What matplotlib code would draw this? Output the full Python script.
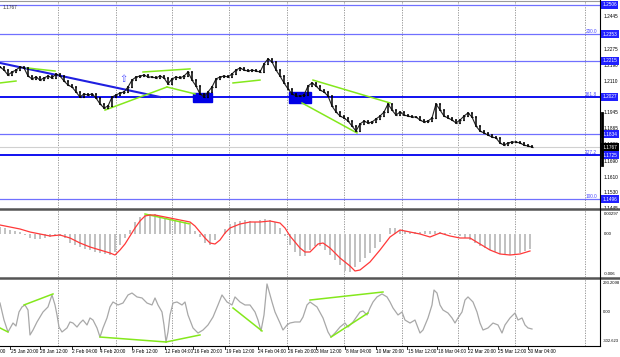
import matplotlib
matplotlib.use("Agg")
import matplotlib.pyplot as plt
from matplotlib.lines import Line2D
from matplotlib.patches import Rectangle

# EURUSD H4 - closes sampled every 4 px along the time axis
closes = [1.2183, 1.2167, 1.2141, 1.2157, 1.2167, 1.2183, 1.2178, 1.2136, 1.2121, 1.2131,
          1.2115, 1.2126, 1.2136, 1.2126, 1.2147, 1.2136, 1.2110, 1.2089, 1.2079, 1.2053,
          1.2027, 1.2043, 1.2037, 1.2043, 1.2022, 1.1991, 1.1970, 1.1980, 1.2027, 1.2037,
          1.2048, 1.2053, 1.2079, 1.2115, 1.2131, 1.2136, 1.2141, 1.2131, 1.2131, 1.2126,
          1.2136, 1.2126, 1.2095, 1.2121, 1.2131, 1.2126, 1.2136, 1.2157, 1.2115, 1.2084,
          1.2043, 1.2027, 1.2053, 1.2079, 1.2121, 1.2131, 1.2136, 1.2131, 1.2147, 1.2167,
          1.2178, 1.2167, 1.2162, 1.2167, 1.2162, 1.2157, 1.2199, 1.2225, 1.2209, 1.2167,
          1.2136, 1.2100, 1.2069, 1.2043, 1.2032, 1.2032, 1.2037, 1.2084, 1.2100, 1.2084,
          1.2063, 1.2053, 1.2032, 1.1980, 1.1949, 1.1928, 1.1918, 1.1902, 1.1876, 1.1850,
          1.1887, 1.1902, 1.1892, 1.1897, 1.1913, 1.1928, 1.1949, 1.1991, 1.1959, 1.1933,
          1.1949, 1.1933, 1.1928, 1.1923, 1.1923, 1.1907, 1.1897, 1.1902, 1.1918, 1.1991,
          1.1959, 1.1928, 1.1918, 1.1907, 1.1892, 1.1907, 1.1928, 1.1944, 1.1923, 1.1876,
          1.1850, 1.1840, 1.1829, 1.1819, 1.1814, 1.1788, 1.1777, 1.1788, 1.1793, 1.1793,
          1.1788, 1.1777, 1.1772, 1.1767]
bar_step = 4

# MACD histogram, sampled every 5 px
macd_hist = [0.00105, 0.0009, 0.0006, 0.00045, 0.0003, -0.00015, -0.0006, -0.00075, -0.00075, -0.0006,
             -0.00045, -0.0003, -0.0003, -0.0006, -0.00135, -0.00165, -0.00195, -0.00225, -0.0024, -0.0027,
             -0.00285, -0.003, -0.00315, -0.0027, -0.00165, -0.0006, 0.0006, 0.0018, 0.00255, 0.00285,
             0.003, 0.003, 0.0027, 0.0024, 0.00225, 0.0021, 0.00195, 0.0018, 0.00135, 0.00045,
             -0.00045, -0.00135, -0.00165, -0.0009, 0.0, 0.00075, 0.0015, 0.0018, 0.00195, 0.0021,
             0.00195, 0.0018, 0.0021, 0.00225, 0.0021, 0.0018, 0.0009, -0.0003, -0.00165, -0.0027,
             -0.0033, -0.0033, -0.0024, -0.0018, -0.0018, -0.0024, -0.00315, -0.0039, -0.00465, -0.00555,
             -0.0057, -0.00495, -0.0042, -0.0036, -0.00285, -0.0021, -0.0012, 0.0, 0.0009, 0.0009,
             0.0006, 0.00045, 0.0003, 0.0003, 0.0003, 0.00045, 0.00045, 0.00045, 0.0003, 0.00015,
             0.00015, -0.00015, -0.0003, -0.0006, -0.0009, -0.00135, -0.0018, -0.0021, -0.0024, -0.0027,
             -0.003, -0.00315, -0.00315, -0.003, -0.00285, -0.00255, -0.00225]
macd_step = 5

signal_t = [0, 10, 20, 30, 40, 50, 60, 70, 80, 90, 100, 110, 115, 120, 125, 130, 135, 140, 145, 150,
            155, 160, 170, 180, 190, 195, 200, 205, 210, 215, 220, 225, 230, 240, 250, 260, 270, 280, 285, 290,
            300, 305, 310, 318, 323, 330, 340, 350, 355, 360, 370, 380, 390, 400, 410, 420, 430, 440, 450, 460,
            470, 480, 490, 500, 510, 520, 530]
signal = [0.00135, 0.00105, 0.00075, 0.0003, 0.0, -0.0003, -0.00015, -0.0006, -0.00135, -0.00195,
          -0.0024, -0.00285, -0.00315, -0.0024, -0.0015, -0.0003, 0.0009, 0.00195, 0.0027, 0.00285,
          0.00285, 0.0027, 0.0024, 0.0021, 0.0018, 0.0012, 0.0003, -0.0006, -0.00135, -0.0015,
          -0.0009, 0.00015, 0.0009, 0.0015, 0.0018, 0.0018, 0.00195, 0.00165, 0.0009, -0.0003,
          -0.0021, -0.0027, -0.0027, -0.0015, -0.00135, -0.0021, -0.0036, -0.0048, -0.00555, -0.0054,
          -0.0042, -0.0024, -0.00045, 0.0006, 0.0003, 0.0, -0.00045, 0.00015, -0.0003, -0.0006,
          -0.0006, -0.0015, -0.0024, -0.003, -0.00315, -0.003, -0.00255]

cci_t = [0, 4, 8, 13, 16, 19, 22, 25, 28, 30, 33, 37, 40, 43, 48, 52, 55, 57, 59, 62,
         67, 70, 73, 77, 80, 83, 87, 90, 93, 97, 100, 103, 107, 110, 113, 118, 123, 128, 132, 137,
         142, 147, 152, 155, 158, 162, 164, 166, 168, 170, 173, 177, 182, 185, 188, 193, 198, 203, 208, 213,
         218, 222, 227, 232, 235, 240, 245, 250, 255, 258, 261, 264, 267, 272, 275, 280, 283, 287, 290, 295,
         300, 303, 307, 310, 317, 323, 328, 331, 335, 340, 345, 348, 353, 360, 363, 367, 370, 373, 377, 382,
         387, 390, 393, 398, 402, 405, 410, 415, 418, 420, 423, 428, 432, 434, 437, 440, 443, 448, 452, 455,
         458, 462, 465, 468, 473, 477, 480, 483, 488, 493, 498, 502, 505, 510, 515, 518, 522, 525, 528, 532]
cci = [87, -78, -194, -107, -136, 0, 49, 68, 19, -223, -175, -97, -49, 0, 49, 165, 68, -29, -146, -194,
       -155, -97, -107, -146, -107, -78, -126, -58, -78, -155, -243, -155, -58, 49, 97, 68, 87, 165, 184, 146,
       136, 87, 68, 136, 68, 0, -126, -291, -194, -29, 87, 97, 68, 97, -29, -155, -204, -175, -126, -49,
       68, 165, 97, 68, 146, 97, 68, 68, 0, -78, -184, -29, 272, 97, 0, -107, -175, -126, -107, -97,
       -97, -49, 68, 97, 49, -58, -194, -243, -204, -146, -107, -146, -97, 0, 10, -29, 39, 97, 146, 175,
       146, 97, 39, -29, 0, -78, -107, -78, -155, -204, -175, -58, 68, 213, 184, 68, 19, -10, -58, -107,
       -58, 0, 116, 146, 97, 0, -107, -175, -155, -107, -126, -204, -126, -58, -10, -78, -58, -126, -155, -165]

levels = [1.2506, 1.2353, 1.2215, 1.2027, 1.1834, 1.1725, 1.1496]
level_bold = [False, False, False, True, False, True, False]
fib_names = ["200.0", "161.8", "127.2", "100.0"]
fib_values = [1.2353, 1.2027, 1.1725, 1.1496]
price_ticks = [1.2445, 1.2275, 1.2190, 1.2110, 1.1945, 1.1865, 1.1780, 1.1690, 1.1610, 1.1530, 1.1445]
last_price = 1.1767

green_lines = [((0, 1.2100), (16, 1.2110)), ((27, 1.2178), (55, 1.2162)),
               ((105, 1.1959), (167, 1.2079)), ((143, 1.2157), (190, 1.2173)),
               ((167, 1.2079), (195, 1.2043)), ((233, 1.2100), (260, 1.2115)),
               ((302, 1.1996), (357, 1.1840)), ((313, 1.2115), (390, 1.1996))]
blue_trend = ((0, 1.2204), (160, 1.2027))
zones = [((193, 1.2001), (212, 1.2048)), ((289, 1.1996), (311, 1.2053))]
macd_green = [((145, 0.0030), (190, 0.0015))]
cci_green = [((0, -155), (8, -194)), ((24, 68), (53, 175)), ((100, -243), (166, -291)),
             ((166, -291), (200, -223)), ((233, 39), (262, -184)), ((331, -243), (368, -10)),
             ((310, 116), (383, 194))]

date_labels = ["21 Jan 04:00", "25 Jan 20:00", "28 Jan 12:00", "2 Feb 04:00", "4 Feb 20:00",
               "9 Feb 12:00", "12 Feb 04:00", "16 Feb 20:00", "19 Feb 12:00", "24 Feb 04:00",
               "26 Feb 20:00", "3 Mar 12:00", "8 Mar 04:00", "10 Mar 20:00", "15 Mar 12:00",
               "18 Mar 04:00", "22 Mar 20:00", "25 Mar 12:00", "30 Mar 04:00"]
date_pos = [-23, 10, 40, 72, 100, 132, 165, 193, 225, 258, 288, 316, 345, 376, 407, 437, 468, 498, 528]
grid_x = [58, 116, 172, 229, 287, 344, 402, 458, 515, 585]

W, H = 620, 357
FONT = "Liberation Sans"
FS = 3.4
GREEN = "#84e81c"

fig = plt.figure(figsize=(6.2, 3.57), dpi=100)


def px_axes(top, bottom):
    return fig.add_axes([0, 1 - bottom / H, 600 / W, (bottom - top) / H])


ax = px_axes(1, 208)
ax_m = px_axes(210, 277)
ax_c = px_axes(279, 346)

for a in (ax, ax_m, ax_c):
    a.set_xlim(0, 600)
    a.set_xticks([])
    a.set_yticks([])
    for s in a.spines.values():
        s.set_visible(False)
    for gx in grid_x:
        a.axvline(gx, color="#8a8a8a", lw=0.6, ls=(0, (1.5, 1.5)), zorder=0)

ax.set_ylim(1.1450, 1.2526)
ax_m.set_ylim(-0.00645, 0.0036)
ax_c.set_ylim(-330, 320)

# --- price panel ---
for lv, bold in zip(levels, level_bold):
    ax.axhline(lv, color="#1010f0" if bold else "#7070ff", lw=1.4 if bold else 0.9, zorder=1)
ax.axhline(last_price, color="#d0d0d0", lw=0.8, zorder=1)

for (x0, y0), (x1, y1) in zones:
    ax.add_patch(Rectangle((x0, y0), x1 - x0, y1 - y0, color="#0000e6", zorder=2))

(bx0, by0), (bx1, by1) = blue_trend
ax.plot([bx0, bx1], [by0, by1], color="#1f1fe0", lw=1.5, zorder=3)
for (x0, y0), (x1, y1) in green_lines:
    ax.plot([x0, x1], [y0, y1], color=GREEN, lw=1.1, zorder=3)

bx = [i * bar_step for i in range(len(closes))]
ax.plot(bx, closes, color="#222222", lw=0.8, zorder=4)
for i, c in enumerate(closes):
    o = closes[i - 1] if i > 0 else c
    x = bx[i]
    hi = max(o, c) + 0.0004
    lo = min(o, c) - 0.0004
    ax.vlines(x, lo, hi, color="black", lw=1.1, zorder=4)
    ax.hlines(o, x - 1.2, x, color="black", lw=0.9, zorder=4)
    ax.hlines(c, x, x + 1.2, color="black", lw=0.9, zorder=4)

ax.text(123, 1.2121, "\u21e7", color="#4a4aff", fontsize=7, ha="center", va="center",
        family="DejaVu Sans", zorder=5)

yt = ax.get_yaxis_transform()
for t in price_ticks:
    ax.text(1.006, t, f"{t:.4f}", transform=yt, fontsize=FS, family=FONT, va="center",
            ha="left", clip_on=False)
for lv in levels:
    ax.text(1.004, lv, f"{lv:.4f}", transform=yt, fontsize=FS, family=FONT, va="center",
            ha="left", color="white", clip_on=False, zorder=6,
            bbox=dict(boxstyle="square,pad=0.3", fc="#2020ff", ec="none"))
ax.text(1.004, last_price, f"{last_price:.4f}", transform=yt, fontsize=FS, family=FONT,
        va="center", ha="left", color="white", clip_on=False, zorder=7,
        bbox=dict(boxstyle="square,pad=0.3", fc="black", ec="none"))
for name, v in zip(fib_names, fib_values):
    ax.text(597, v, name, fontsize=FS, family=FONT, color="#4646ff", ha="right",
            va="bottom", zorder=5)
ax.text(3, 1.2490, "1.1767", fontsize=FS, family=FONT, color="#333333", va="center")

# --- MACD panel ---
mx = [i * macd_step for i in range(len(macd_hist))]
ax_m.bar(mx, macd_hist, width=2.6, color="#c2c2c2", zorder=1)
ax_m.plot(signal_t, signal, color="#ff3838", lw=0.9, zorder=3)
for (x0, y0), (x1, y1) in macd_green:
    ax_m.plot([x0, x1], [y0, y1], color=GREEN, lw=1.1, zorder=2)
yt_m = ax_m.get_yaxis_transform()
for v, s in [(0.00297, "0.00297"), (0.0, "0.00"), (-0.006, "-0.006")]:
    ax_m.text(1.006, v, s, transform=yt_m, fontsize=3.1, family=FONT, va="center", clip_on=False)

# --- CCI panel ---
ax_c.plot(cci_t, cci, color="#a8a8a8", lw=0.9, zorder=2)
for (x0, y0), (x1, y1) in cci_green:
    ax_c.plot([x0, x1], [y0, y1], color=GREEN, lw=1.1, zorder=3)
yt_c = ax_c.get_yaxis_transform()
for v, s, va in [(293.2098, "293.2098", "top"), (0.0, "0.00", "center"), (-302.623, "-302.623", "bottom")]:
    ax_c.text(1.004, v + (12 if va == "top" else 0), s, transform=yt_c, fontsize=3.0,
              family=FONT, va=va, clip_on=False)


# --- frame lines ---
def fig_line(x0, y0, x1, y1, **kw):
    fig.add_artist(Line2D([x0 / W, x1 / W], [1 - y0 / H, 1 - y1 / H],
                          transform=fig.transFigure, **kw))


fig_line(0, 1, 600, 1, color="#9a9a9a", lw=0.8)
fig_line(0, 209, 620, 209, color="#555555", lw=1.8)
fig_line(0, 278, 620, 278, color="#555555", lw=1.8)
fig_line(0, 346, 600, 346, color="black", lw=0.8)
fig_line(600, 0, 600, 346, color="black", lw=0.8)
fig_line(601.5, 113, 601.5, 165, color="black", lw=2.0)

for lab, p in zip(date_labels, date_pos):
    fig_line(p, 346, p, 348.5, color="black", lw=0.6)
    fig.text((p + 0.5) / W, 1 - 351.5 / H, lab, fontsize=FS, family=FONT, va="center", ha="left")

fig.savefig("out.png", dpi=100, facecolor="white")
